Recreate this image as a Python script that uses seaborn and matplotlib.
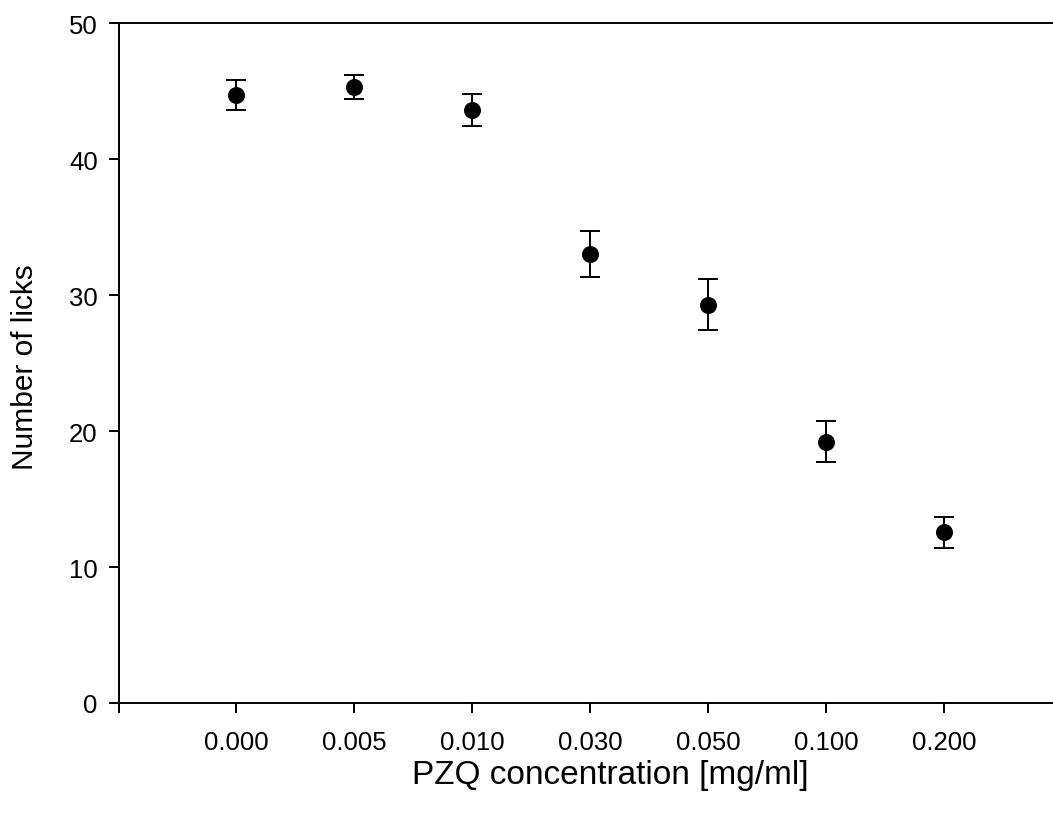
import matplotlib
matplotlib.use("Agg")
import matplotlib.pyplot as plt
import seaborn as sns
import pandas as pd

concentrations = ["0.000", "0.005", "0.010", "0.030", "0.050", "0.100", "0.200"]
licks_mean = [44.7, 45.3, 43.6, 33.0, 29.3, 19.2, 12.55]
licks_err = [1.1, 0.9, 1.2, 1.7, 1.85, 1.5, 1.15]
y_ticks = [0, 10, 20, 30, 40, 50]

df = pd.DataFrame({"conc": concentrations, "licks": licks_mean, "err": licks_err})

sns.set_style("ticks")
plt.rcParams["font.family"] = ["Liberation Sans", "DejaVu Sans"]
plt.rcParams["text.color"] = "black"
plt.rcParams["axes.labelcolor"] = "black"

fig = plt.figure(figsize=(10.53, 8.20), dpi=100)
ax = fig.add_axes([118.5 / 1053, 116 / 820, (1062 - 118.5) / 1053, (704 - 24) / 820])

pos = list(range(len(concentrations)))
ax.errorbar(pos, df["licks"], yerr=df["err"], fmt="none", ecolor="black",
            elinewidth=1.4, capsize=7.5, capthick=1.4, zorder=2)
sns.scatterplot(x=pos, y=df["licks"], ax=ax, color="black", s=150,
                edgecolor="black", linewidth=0, zorder=3, legend=False)

ax.set_xlim(-1, len(concentrations))
ax.set_ylim(0, 50)
ax.set_xticks(range(-1, len(concentrations) + 1))
ax.set_xticklabels([""] + concentrations + [""])
ax.set_yticks(y_ticks)
ax.set_yticklabels([str(v) for v in y_ticks])

for side in ["left", "bottom", "top"]:
    ax.spines[side].set_visible(True)
    ax.spines[side].set_linewidth(1.4)
    ax.spines[side].set_color("black")
ax.spines["right"].set_visible(False)

ax.tick_params(axis="both", direction="out", length=7, width=1.4, colors="black",
               labelcolor="black", labelsize=18.5, pad=8)
ax.tick_params(axis="x", pad=12.5)

ax.set_xlabel("PZQ concentration [mg/ml]", fontsize=24, color="black")
ax.set_ylabel("Number of licks", fontsize=21.5, color="black")
ax.xaxis.set_label_coords((610 - 118.5) / (1062 - 118.5), -(760 - 704) / 680)
ax.yaxis.set_label_coords(-(118.5 - 39) / (1062 - 118.5), (704 - 367) / 680)

fig.savefig("out.png", dpi=100)
